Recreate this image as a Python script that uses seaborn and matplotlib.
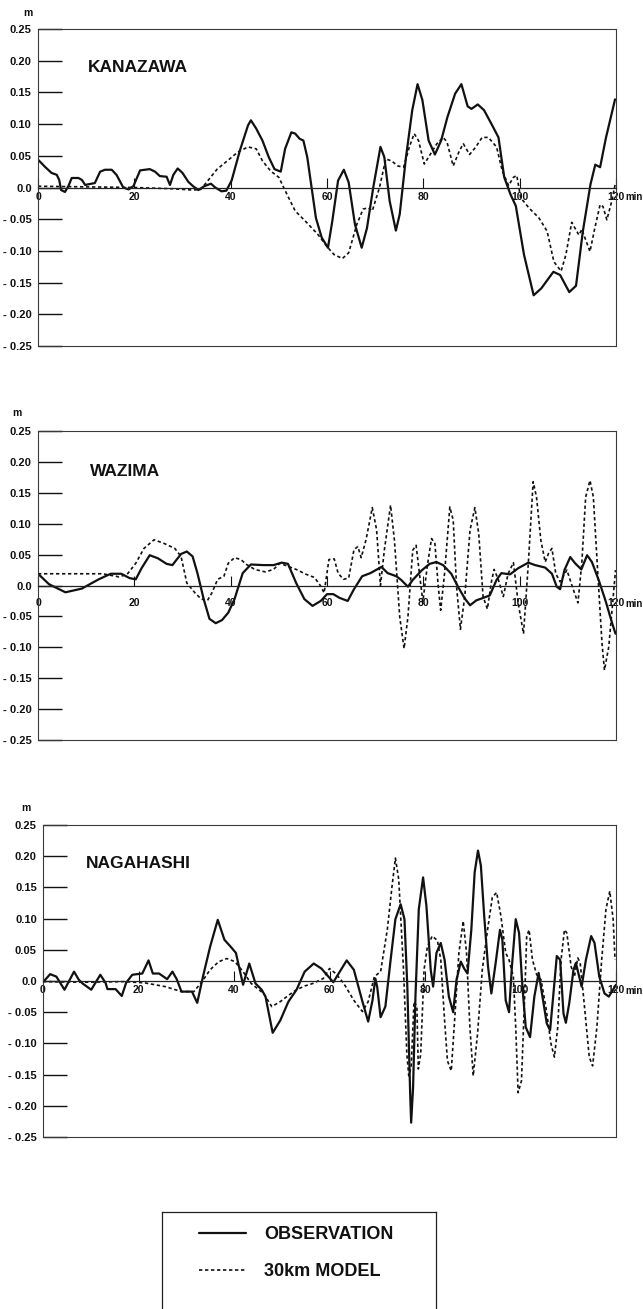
import matplotlib
matplotlib.use("Agg")
import matplotlib.pyplot as plt
import pandas as pd
import seaborn as sns

# ---------------- data ----------------
STATIONS = ["KANAZAWA", "WAZIMA", "NAGAHASHI"]
LEGEND_LABELS = ["OBSERVATION", "30km MODEL"]
Y_TICKS = [0.25, 0.20, 0.15, 0.10, 0.05, 0.0, -0.05, -0.10, -0.15, -0.20, -0.25]
Y_TICK_LABELS = ["0.25", "0.20", "0.15", "0.10", "0.05", "0.0",
                 "- 0.05", "- 0.10", "- 0.15", "- 0.20", "- 0.25"]
X_TICKS = [0, 20, 40, 60, 80, 100, 120]
X_TICK_LABELS = ["0", "20", "40", "60", "80", "100", "120"]

kanazawa_obs_t = [0.0, 1.4, 2.8, 3.9, 4.4, 4.8, 5.6, 6.3, 7.0, 8.4, 9.1, 9.8, 10.4, 11.8, 12.9, 13.9,
                  15.3, 16.3, 17.7, 18.8, 19.8, 21.2, 23.2, 24.3, 25.3, 26.7, 27.4, 28.1, 29.0, 30.0,
                  31.2, 32.2, 33.3, 34.5, 35.9, 36.8, 38.1, 39.1, 40.2, 41.9, 43.6, 44.2, 45.3, 46.6,
                  47.9, 49.1, 50.4, 51.3, 52.6, 53.4, 54.3, 55.1, 55.9, 57.7, 58.9, 60.2, 61.1, 62.3,
                  63.5, 64.5, 65.8, 67.2, 68.3, 69.6, 71.1, 71.9, 73.0, 74.3, 75.1, 76.4, 77.7, 78.8,
                  79.8, 81.1, 82.4, 83.7, 85.0, 86.6, 87.9, 89.2, 90.0, 91.3, 92.6, 94.3, 95.6, 96.8,
                  98.1, 99.2, 100.9, 102.9, 104.5, 107.0, 108.4, 110.3, 111.7, 113.1, 114.7, 115.7,
                  116.7, 117.9, 119.8]
kanazawa_obs_v = [0.044, 0.033, 0.023, 0.020, 0.012, -0.004, -0.007, 0.002, 0.015, 0.015, 0.012, 0.004,
                  0.005, 0.007, 0.025, 0.028, 0.028, 0.020, 0.000, -0.003, 0.002, 0.027, 0.029, 0.025,
                  0.018, 0.017, 0.004, 0.020, 0.030, 0.023, 0.009, 0.002, -0.004, 0.002, 0.006, 0.000,
                  -0.006, -0.005, 0.011, 0.058, 0.098, 0.106, 0.093, 0.074, 0.048, 0.029, 0.025, 0.061,
                  0.087, 0.085, 0.077, 0.074, 0.048, -0.048, -0.079, -0.095, -0.053, 0.011, 0.028, 0.008,
                  -0.058, -0.095, -0.064, 0.000, 0.064, 0.048, -0.021, -0.068, -0.042, 0.048, 0.122,
                  0.163, 0.138, 0.074, 0.052, 0.074, 0.111, 0.148, 0.163, 0.128, 0.124, 0.131, 0.122,
                  0.098, 0.079, 0.016, -0.011, -0.029, -0.106, -0.170, -0.159, -0.133, -0.138, -0.165,
                  -0.155, -0.070, 0.005, 0.036, 0.032, 0.078, 0.139]

kanazawa_mod_t = [0.0, 10.0, 20.0, 28.0, 32.1, 33.8, 35.5, 37.2, 39.3, 41.5, 43.6, 45.3, 46.6, 48.3,
                  50.0, 51.7, 53.4, 55.5, 58.1, 60.2, 61.5, 63.2, 64.5, 66.2, 67.5, 68.6, 69.4, 70.9,
                  72.2, 73.4, 74.7, 75.9, 77.1, 78.1, 79.0, 80.2, 81.5, 82.8, 84.1, 84.9, 86.2, 87.5,
                  88.3, 89.6, 90.9, 92.2, 93.5, 95.2, 96.4, 97.7, 98.7, 99.4, 100.2, 101.9, 104.0,
                  105.7, 107.1, 108.6, 109.6, 110.8, 112.3, 112.9, 114.6, 115.6, 116.7, 117.3, 118.1,
                  119.1, 119.8]
kanazawa_mod_v = [0.002, 0.001, 0.000, -0.002, -0.004, -0.003, 0.013, 0.029, 0.042, 0.056, 0.064, 0.061,
                  0.042, 0.026, 0.016, -0.011, -0.037, -0.053, -0.074, -0.095, -0.106, -0.112, -0.103,
                  -0.058, -0.034, -0.032, -0.037, 0.000, 0.045, 0.042, 0.034, 0.032, 0.064, 0.085,
                  0.074, 0.037, 0.053, 0.069, 0.079, 0.072, 0.034, 0.058, 0.069, 0.052, 0.064, 0.079,
                  0.079, 0.064, 0.026, 0.003, 0.016, 0.019, -0.016, -0.032, -0.048, -0.069, -0.117,
                  -0.132, -0.106, -0.055, -0.075, -0.066, -0.101, -0.064, -0.027, -0.030, -0.051,
                  -0.022, 0.004]

wazima_obs_t = [0.0, 2.3, 5.7, 9.1, 12.6, 15.1, 17.3, 19.0, 20.3, 21.5, 23.2, 24.9, 26.7, 27.9, 29.7,
                30.9, 32.1, 33.1, 34.4, 35.6, 36.9, 38.2, 39.5, 40.8, 42.5, 44.2, 46.8, 48.9, 50.6,
                51.9, 53.6, 55.3, 57.0, 58.7, 60.0, 61.3, 62.6, 64.3, 65.6, 67.3, 69.0, 71.3, 72.6,
                74.4, 75.4, 76.8, 77.8, 79.6, 81.3, 82.7, 84.1, 85.8, 87.2, 88.6, 89.7, 91.0, 92.1,
                93.8, 95.2, 96.2, 98.0, 99.7, 101.8, 103.2, 105.3, 106.7, 107.7, 108.4, 109.3, 110.5,
                111.5, 112.8, 114.0, 115.0, 116.4, 117.8, 119.2, 119.9]
wazima_obs_v = [0.019, 0.002, -0.011, -0.005, 0.010, 0.019, 0.019, 0.012, 0.010, 0.028, 0.049, 0.044,
                0.035, 0.033, 0.051, 0.055, 0.047, 0.020, -0.022, -0.054, -0.061, -0.056, -0.044,
                -0.022, 0.020, 0.034, 0.033, 0.033, 0.037, 0.035, 0.004, -0.022, -0.033, -0.025,
                -0.014, -0.014, -0.020, -0.025, -0.006, 0.015, 0.020, 0.030, 0.020, 0.015, 0.009,
                -0.002, 0.009, 0.024, 0.035, 0.038, 0.033, 0.019, -0.002, -0.021, -0.032, -0.024,
                -0.021, -0.016, 0.009, 0.020, 0.018, 0.028, 0.037, 0.033, 0.029, 0.019, -0.002,
                -0.006, 0.025, 0.046, 0.036, 0.026, 0.049, 0.038, 0.009, -0.024, -0.061, -0.078]

wazima_mod_t = [0.0, 13.4, 16.8, 18.5, 20.3, 22.0, 24.1, 26.2, 28.4, 29.7, 30.9, 32.6, 33.9, 35.2,
                36.1, 37.3, 38.6, 39.5, 40.8, 42.1, 43.3, 45.0, 47.2, 48.9, 50.2, 51.9, 53.6, 55.7,
                57.4, 58.7, 59.4, 60.4, 61.5, 62.3, 63.4, 64.5, 65.6, 66.4, 67.1, 68.1, 69.4, 70.3,
                71.1, 71.9, 73.2, 74.0, 75.1, 76.0, 76.8, 77.8, 78.5, 79.2, 79.9, 80.8, 81.7, 82.4,
                83.1, 83.6, 84.4, 85.5, 86.2, 86.9, 87.7, 88.6, 89.7, 90.7, 91.5, 92.4, 93.3, 94.2,
                94.7, 95.6, 96.6, 97.6, 98.7, 99.7, 100.8, 101.8, 102.8, 103.5, 104.4, 105.3, 106.0,
                106.7, 107.5, 108.4, 109.8, 111.2, 112.1, 112.9, 113.7, 114.6, 115.3, 116.3, 117.1,
                117.6, 118.5, 119.3, 119.9]
wazima_mod_v = [0.019, 0.019, 0.014, 0.018, 0.036, 0.060, 0.074, 0.068, 0.060, 0.047, 0.004, -0.012,
                -0.022, -0.024, -0.012, 0.010, 0.015, 0.036, 0.045, 0.042, 0.034, 0.026, 0.022, 0.026,
                0.036, 0.031, 0.026, 0.018, 0.013, -0.001, -0.012, 0.042, 0.043, 0.020, 0.010, 0.012,
                0.058, 0.063, 0.045, 0.074, 0.126, 0.090, 0.000, 0.057, 0.130, 0.073, -0.051, -0.102,
                -0.051, 0.057, 0.065, 0.019, -0.026, 0.030, 0.076, 0.068, -0.002, -0.040, 0.019,
                0.127, 0.106, -0.002, -0.071, -0.018, 0.090, 0.126, 0.084, -0.018, -0.038, 0.009,
                0.026, 0.009, -0.018, 0.019, 0.037, -0.029, -0.078, 0.036, 0.168, 0.143, 0.073, 0.038,
                0.052, 0.060, 0.019, 0.006, 0.025, -0.008, -0.028, 0.036, 0.143, 0.170, 0.143, 0.009,
                -0.094, -0.137, -0.099, -0.029, 0.025]

nagahashi_obs_t = [0.0, 1.5, 2.8, 4.5, 6.5, 7.5, 8.3, 10.1, 12.0, 13.1, 13.5, 15.2, 16.5, 17.4, 18.7,
                   20.8, 22.1, 23.0, 24.3, 26.0, 27.1, 28.0, 29.0, 31.2, 32.3, 33.5, 35.0, 36.6, 38.0,
                   39.3, 40.4, 41.9, 43.2, 44.5, 45.8, 46.6, 48.1, 49.7, 51.4, 53.1, 54.8, 56.7, 58.3,
                   60.8, 62.4, 63.6, 65.1, 66.9, 68.1, 69.0, 69.6, 70.0, 70.7, 71.7, 72.8, 73.8, 74.9,
                   75.7, 76.3, 76.9, 77.1, 77.5, 78.0, 78.7, 79.6, 80.3, 81.2, 81.7, 82.4, 83.3, 84.1,
                   85.0, 85.9, 86.6, 87.5, 88.2, 88.9, 89.7, 90.4, 91.1, 91.7, 92.4, 93.2, 93.9, 94.8,
                   95.7, 96.2, 96.9, 97.6, 98.2, 99.0, 99.7, 100.4, 101.1, 102.0, 102.9, 103.8, 104.6,
                   105.5, 106.2, 106.9, 107.6, 108.3, 109.0, 109.5, 110.2, 111.1, 111.6, 112.2, 112.8,
                   113.7, 114.8, 115.5, 116.5, 117.6, 118.5, 119.3, 120.0]
nagahashi_obs_v = [-0.002, 0.011, 0.007, -0.014, 0.015, 0.002, -0.004, -0.014, 0.010, -0.003, -0.013,
                   -0.013, -0.024, -0.003, 0.010, 0.012, 0.033, 0.012, 0.012, 0.003, 0.015, 0.003,
                   -0.017, -0.017, -0.035, 0.007, 0.055, 0.098, 0.066, 0.055, 0.045, -0.006, 0.028,
                   -0.004, -0.014, -0.025, -0.083, -0.063, -0.033, -0.014, 0.015, 0.028, 0.020, -0.002,
                   0.018, 0.033, 0.018, -0.033, -0.065, -0.031, 0.004, -0.010, -0.058, -0.041, 0.034,
                   0.099, 0.123, 0.099, -0.009, -0.182, -0.227, -0.171, -0.025, 0.115, 0.166, 0.120,
                   0.018, -0.009, 0.045, 0.061, 0.034, -0.025, -0.050, 0.002, 0.031, 0.020, 0.012,
                   0.082, 0.174, 0.209, 0.185, 0.104, 0.023, -0.020, 0.029, 0.082, 0.066, -0.031,
                   -0.050, 0.023, 0.099, 0.077, -0.009, -0.074, -0.090, -0.025, 0.013, -0.025, -0.068,
                   -0.079, -0.020, 0.040, 0.034, -0.052, -0.067, -0.036, 0.018, 0.029, 0.010, -0.009,
                   0.034, 0.072, 0.061, 0.007, -0.020, -0.025, -0.015, -0.006]

nagahashi_mod_t = [0.0, 8.3, 17.0, 21.3, 25.6, 29.0, 31.6, 33.3, 35.0, 36.8, 38.5, 40.2, 41.9, 43.6,
                   46.2, 47.9, 49.7, 51.4, 53.1, 54.8, 56.5, 58.7, 60.0, 61.3, 63.0, 65.1, 66.9, 68.1,
                   69.4, 70.2, 70.7, 72.1, 73.1, 73.8, 74.5, 75.5, 76.2, 76.6, 77.1, 77.7, 78.3, 78.6,
                   79.1, 79.8, 80.5, 81.5, 82.6, 83.3, 84.1, 84.7, 85.5, 86.2, 87.1, 88.0, 88.7, 89.4,
                   90.1, 91.0, 92.0, 93.1, 94.1, 95.0, 95.9, 96.9, 97.6, 98.5, 99.0, 99.5, 100.2, 100.9,
                   101.3, 101.8, 102.5, 103.4, 104.3, 105.3, 106.4, 107.1, 107.8, 108.5, 109.2, 109.7,
                   110.6, 111.3, 112.0, 112.5, 113.4, 114.4, 115.1, 116.0, 117.0, 117.9, 118.7, 119.4,
                   119.8]
nagahashi_mod_v = [-0.001, -0.002, -0.001, -0.003, -0.009, -0.017, -0.017, -0.001, 0.018, 0.031, 0.036,
                   0.031, 0.015, -0.004, -0.020, -0.041, -0.033, -0.023, -0.014, -0.008, -0.004, 0.004,
                   0.020, 0.012, -0.004, -0.031, -0.049, -0.033, 0.007, 0.012, 0.015, 0.082, 0.152,
                   0.197, 0.163, 0.018, -0.117, -0.152, -0.138, -0.033, -0.041, -0.141, -0.117, 0.018,
                   0.055, 0.072, 0.065, 0.034, -0.063, -0.128, -0.144, -0.063, 0.045, 0.096, 0.045,
                   -0.074, -0.152, -0.085, 0.018, 0.082, 0.134, 0.142, 0.104, 0.045, 0.034, 0.007,
                   -0.074, -0.179, -0.160, -0.020, 0.072, 0.082, 0.034, 0.010, 0.002, -0.041, -0.101,
                   -0.122, -0.074, 0.034, 0.082, 0.077, 0.023, 0.007, 0.037, 0.029, -0.041, -0.122,
                   -0.136, -0.074, 0.034, 0.115, 0.144, 0.099, 0.034]

# ---------------- styling ----------------
sns.set_style("white")
plt.rcParams["font.family"] = ["Liberation Sans", "DejaVu Sans"]
plt.rcParams["text.color"] = "#111111"

W, H = 643, 1309
fig = plt.figure(figsize=(W / 100, H / 100), dpi=100)
fig.patch.set_facecolor("white")


def px_axes(left, top, right, bottom):
    return fig.add_axes([left / W, 1 - bottom / H, (right - left) / W, (bottom - top) / H])


panels = [
    dict(name=STATIONS[0], obs=(kanazawa_obs_t, kanazawa_obs_v), mod=(kanazawa_mod_t, kanazawa_mod_v),
         box=(38, 29, 616, 346), xpad=3.0, name_pos=(0.087, 0.877), m_off=(-7, 11.5)),
    dict(name=STATIONS[1], obs=(wazima_obs_t, wazima_obs_v), mod=(wazima_mod_t, wazima_mod_v),
         box=(38, 431, 616, 740), xpad=9.0, name_pos=(0.090, 0.870), m_off=(-15, 13)),
    dict(name=STATIONS[2], obs=(nagahashi_obs_t, nagahashi_obs_v), mod=(nagahashi_mod_t, nagahashi_mod_v),
         box=(43, 825, 616, 1137), xpad=3.0, name_pos=(0.075, 0.875), m_off=(-12, 12)),
]

INK = "#111111"
FRAME = "#3a3a3a"
axes = []
for p in panels:
    ax = px_axes(*p["box"])
    axes.append(ax)
    ax.set_facecolor("white")
    df_obs = pd.DataFrame({"t": p["obs"][0], "v": p["obs"][1]})
    df_mod = pd.DataFrame({"t": p["mod"][0], "v": p["mod"][1]})
    sns.lineplot(data=df_obs, x="t", y="v", ax=ax, color=INK, linewidth=1.6,
                 estimator=None, sort=False, legend=False, label=LEGEND_LABELS[0],
                 solid_joinstyle="round")
    sns.lineplot(data=df_mod, x="t", y="v", ax=ax, color=INK, linewidth=1.2,
                 linestyle=(0, (2.0, 1.6)), estimator=None, sort=False, legend=False,
                 label=LEGEND_LABELS[1])
    if ax.get_legend() is not None:
        ax.get_legend().remove()
    ax.set_xlabel("")
    ax.set_ylabel("")
    ax.grid(False)
    ax.set_xlim(0, 120)
    ax.set_ylim(-0.25, 0.25)

    for s in ["top", "right", "left"]:
        ax.spines[s].set_color(FRAME)
        ax.spines[s].set_linewidth(0.8)
    ax.spines["bottom"].set_position(("data", 0))
    ax.spines["bottom"].set_color("#222222")
    ax.spines["bottom"].set_linewidth(0.9)
    ax.plot([0, 1], [0, 0], transform=ax.transAxes, color=FRAME, lw=0.8, clip_on=False)

    ax.set_xticks(X_TICKS)
    ax.set_xticklabels(X_TICK_LABELS, fontsize=7.5, fontweight="bold")
    ax.tick_params(axis="x", bottom=True, direction="in", length=7, width=0.8,
                   pad=p["xpad"], colors=INK)
    ax.set_yticks(Y_TICKS)
    ax.set_yticklabels(Y_TICK_LABELS, fontsize=8, fontweight="bold")
    ax.tick_params(axis="y", left=True, right=False, direction="in", length=17, width=1.0,
                   pad=4.5, colors=INK)

    ax.annotate("min", xy=(120, 0), xycoords="data", xytext=(6.5, -p["xpad"] - 0.5),
                textcoords="offset points", ha="left", va="top", fontsize=7,
                fontweight="bold", color=INK, annotation_clip=False)
    ax.annotate("m", xy=(0, 1), xycoords="axes fraction", xytext=p["m_off"],
                textcoords="offset points", ha="center", va="center", fontsize=7.5,
                fontweight="bold", color=INK)
    ax.text(p["name_pos"][0], p["name_pos"][1], p["name"], transform=ax.transAxes,
            fontsize=12.5, fontweight="bold", ha="left", va="center", color=INK)

# ---------------- legend box ----------------
lax = px_axes(162, 1212, 436, 1345)
lax.set_facecolor("white")
lax.set_xticks([])
lax.set_yticks([])
for s in lax.spines.values():
    s.set_color("#222222")
    s.set_linewidth(0.9)
handles, labels = axes[0].get_legend_handles_labels()
lax.legend(handles, labels, loc="upper left", bbox_to_anchor=(37 / 274, 1 - 14 / 133),
           frameon=False, borderpad=0, borderaxespad=0, handlelength=2.6,
           handletextpad=1.0, labelspacing=1.1, labelcolor=INK,
           prop={"weight": "bold", "size": 13})

fig.savefig("out.png", dpi=100, facecolor="white")
